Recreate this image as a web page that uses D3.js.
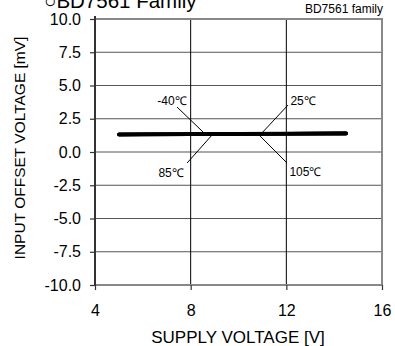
<!DOCTYPE html>
<html>
<head>
<meta charset="utf-8">
<script src="https://cdn.jsdelivr.net/npm/d3@7"></script>
<style>
body { margin: 0; background: #fff; }
</style>
</head>
<body>
<svg id="chart" width="395" height="346" font-family="Liberation Sans, Arial, sans-serif"></svg>
<script>
// supply voltage sweep [V]
const supplyV = [5, 6, 8, 10, 12, 14.5];
// input offset voltage [mV] per temperature
const offsetM40 = [1.30, 1.31, 1.33, 1.35, 1.37, 1.39];
const offset25 = [1.32, 1.33, 1.34, 1.36, 1.38, 1.40];
const offset85 = [1.31, 1.32, 1.34, 1.35, 1.37, 1.38];
const offset105 = [1.33, 1.34, 1.35, 1.37, 1.39, 1.42];
const xTicks = [4, 8, 12, 16];
const yTicks = [-10, -7.5, -5, -2.5, 0, 2.5, 5, 7.5, 10];
// label text, leader start on the curve, leader end, text position (V, mV)
const tempLabels = [
    {text: "-40℃", at: [8.56, 1.43], end: [7.43, 3.38], lab: [7.22, 3.55], anchor: "middle"},
    {text: "25℃", at: [10.98, 1.43], end: [12.07, 3.53], lab: [12.17, 3.55], anchor: "start"},
    {text: "85℃", at: [8.93, 1.35], end: [7.85, -0.83], lab: [7.18, -1.88], anchor: "middle"},
    {text: "105℃", at: [10.82, 1.35], end: [12.03, -0.83], lab: [12.13, -1.82], anchor: "start"}
];

const svg = d3.select("#chart");
const m = {left: 95, right: 382, top: 19, bottom: 285};

const x = d3.scaleLinear().domain([4, 16]).range([m.left, m.right]);
const y = d3.scaleLinear().domain([-10, 10]).range([m.bottom, m.top]);

// title (cut off at the top, as in the source)
svg.append("text")
    .attr("x", 44).attr("y", 8)
    .attr("font-size", 20.5)
    .text("○BD7561 Family");

svg.append("text")
    .attr("x", 383).attr("y", 13)
    .attr("text-anchor", "end")
    .attr("font-size", 12)
    .text("BD7561 family");

// grid
svg.append("g")
    .selectAll("line")
    .data(yTicks.slice(1, -1)).enter()
    .append("line")
    .attr("x1", m.left).attr("x2", m.right)
    .attr("y1", d => y(d)).attr("y2", d => y(d))
    .attr("stroke", "#555").attr("stroke-width", 1);

svg.append("g")
    .selectAll("line")
    .data(xTicks.slice(1, -1)).enter()
    .append("line")
    .attr("y1", m.top).attr("y2", m.bottom)
    .attr("x1", d => x(d)).attr("x2", d => x(d))
    .attr("stroke", "#000").attr("stroke-width", 1);

// frame
svg.append("rect")
    .attr("x", m.left).attr("y", m.top)
    .attr("width", m.right - m.left).attr("height", m.bottom - m.top)
    .attr("fill", "none")
    .attr("stroke", "#888").attr("stroke-width", 2);

// axes
const fmtY = d => d3.format(".1f")(d).replace("−", "-");
const yAxis = svg.append("g")
    .attr("transform", `translate(${m.left},0)`)
    .call(d3.axisLeft(y).tickValues(yTicks).tickFormat(fmtY).tickSize(5).tickPadding(9));
const xAxis = svg.append("g")
    .attr("transform", `translate(0,${m.bottom})`)
    .call(d3.axisBottom(x).tickValues(xTicks).tickSize(5).tickPadding(16));

yAxis.select(".domain").attr("stroke", "#333").attr("stroke-width", 2).attr("d", `M0,${m.top - 3}V${m.bottom}`);
xAxis.select(".domain").remove();
[yAxis, xAxis].forEach(a => {
    a.attr("font-family", "Liberation Sans, Arial, sans-serif").attr("font-size", 16);
    a.selectAll(".tick line").attr("stroke", "#333").attr("stroke-width", 1.2);
    a.selectAll(".tick text").attr("fill", "#000");
});
xAxis.selectAll(".tick text").attr("dy", "0.6em");

// axis titles
svg.append("text")
    .attr("x", 238).attr("y", 343)
    .attr("text-anchor", "middle")
    .attr("font-size", 17)
    .text("SUPPLY VOLTAGE [V]");

svg.append("text")
    .attr("transform", "translate(25,148) rotate(-90)")
    .attr("text-anchor", "middle")
    .attr("font-size", 15.5)
    .text("INPUT OFFSET VOLTAGE [mV]");

// curves
const line = d3.line().x((d, i) => x(supplyV[i])).y(d => y(d));
[offsetM40, offset25, offset85, offset105].forEach(s => {
    svg.append("path")
        .attr("d", line(s))
        .attr("fill", "none")
        .attr("stroke", "#000")
        .attr("stroke-width", 3.5)
        .attr("stroke-linecap", "round");
});

// temperature labels and leaders
tempLabels.forEach(t => {
    svg.append("line")
        .attr("x1", x(t.at[0])).attr("y1", y(t.at[1]))
        .attr("x2", x(t.end[0])).attr("y2", y(t.end[1]))
        .attr("stroke", "#000").attr("stroke-width", 1);
    svg.append("text")
        .attr("x", x(t.lab[0])).attr("y", y(t.lab[1]))
        .attr("text-anchor", t.anchor)
        .attr("font-size", 12)
        .text(t.text);
});
</script>
</body>
</html>
